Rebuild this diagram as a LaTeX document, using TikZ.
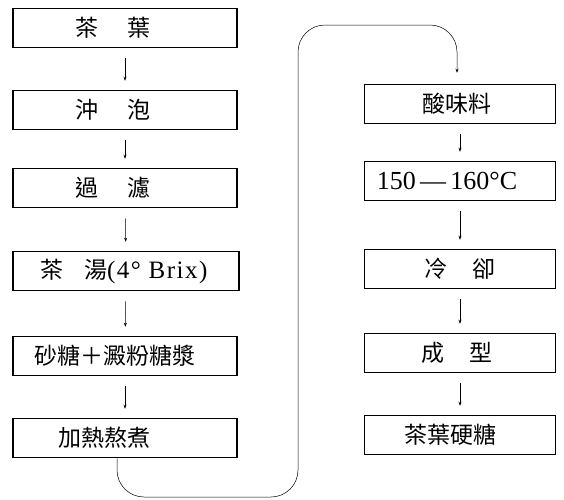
\documentclass[tikz,border=0pt]{standalone}
\usepackage{fontspec}
\setmainfont{Liberation Serif}
\newfontfamily\cjk{Noto Sans CJK TC}
\newfontfamily\latsp[LetterSpace=6]{Liberation Serif}
\usetikzlibrary{arrows.meta}
\begin{document}
\begin{tikzpicture}[x=1pt,y=-1pt,
  stepbox/.style={draw,line width=1.5pt,minimum height=39pt,inner sep=0pt,font=\fontsize{23}{23}\selectfont},
  lbox/.style={stepbox,minimum width=224pt},
  rbox/.style={stepbox,minimum width=191pt},
  flow/.style={-{Stealth[length=4pt,width=3pt]},line width=0.5pt,shorten <=10pt,shorten >=9pt}]
\useasboundingbox (0,0) rectangle (564,499);
% left column
\node[lbox] (a1) at (125,28) {\hspace{-24pt}\cjk 茶\hspace{1.25em}葉};
\node[lbox] (a2) at (125,110) {\hspace{-24pt}\cjk 沖\hspace{1.25em}泡};
\node[lbox] (a3) at (125,188) {\hspace{-24pt}\cjk 過\hspace{1.25em}濾};
\node[lbox,minimum width=226pt] (a4) at (126,271) {\hspace{-4pt}{\cjk 茶\hspace{0.9em}湯}{\latsp\fontsize{25}{25}\selectfont(4°~Brix)}};
\node[lbox] (a5) at (125,356) {\hspace{-20pt}\cjk 砂糖＋澱粉糖漿};
\node[lbox] (a6) at (125,438) {\hspace{-42pt}\cjk 加熱熬煮};
% right column
\node[rbox] (b1) at (460,104) {\hspace{-6pt}\cjk 酸味料};
\node[rbox] (b2) at (460,181) {\hspace{-26pt}\fontsize{26}{26}\selectfont 150\,—\,160°C};
\node[rbox] (b3) at (460,269) {\cjk 冷\hspace{1.1em}卻};
\node[rbox] (b4) at (460,353) {\hspace{-6pt}\cjk 成\hspace{1.1em}型};
\node[rbox] (b5) at (460,435) {\hspace{-20pt}\cjk 茶葉硬糖};
% arrows
\draw[flow] (a1) -- (a2);
\draw[flow] (a2) -- (a3);
\draw[flow] (a3) -- (a4);
\draw[flow] (a4) -- (a5);
\draw[flow] (a5) -- (a6);
\draw[flow] (b1) -- (b2);
\draw[flow] (b2) -- (b3);
\draw[flow] (b3) -- (b4);
\draw[flow] (b4) -- (b5);
% connector from a6 to b1
\coordinate (c1) at (117,497);
\coordinate (c2) at (298,497);
\coordinate (c3) at (298,25);
\coordinate (c4) at (457,25);
\draw[-{Stealth[length=4pt,width=3pt]},line width=0.5pt,rounded corners=27pt,shorten >=11pt]
  (a6.south -| c1) -- (c1) -- (c2) -- (c3) -- (c4) -- (b1.north -| c4);
\end{tikzpicture}
\end{document}
